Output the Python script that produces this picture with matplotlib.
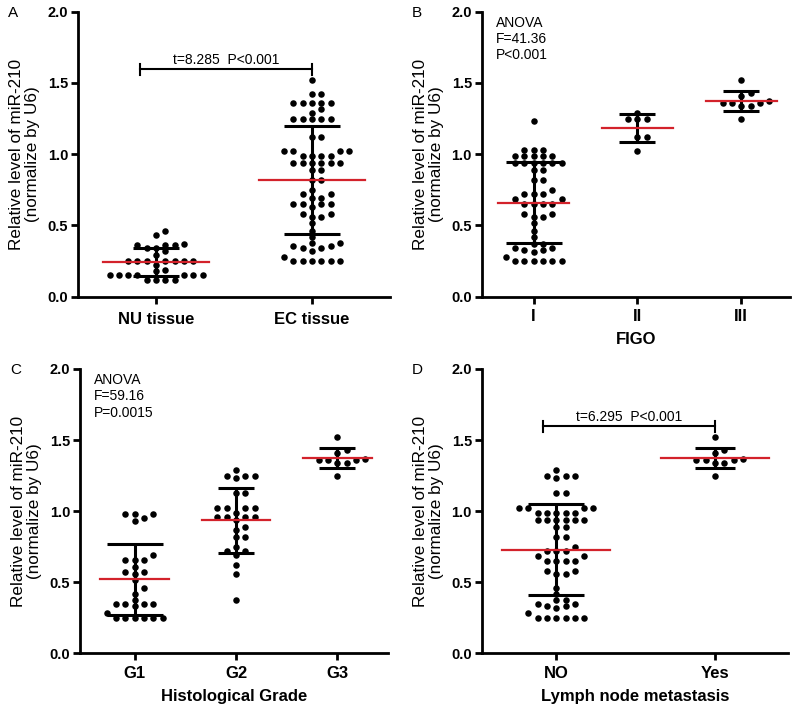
import numpy as np
import matplotlib.pyplot as plt

plt.rcParams['font.family'] = ['Liberation Sans', 'DejaVu Sans']

# values (relative miR-210 level)
nu_tissue = [0.46, 0.43, 0.37, 0.36, 0.36, 0.36, 0.34, 0.34, 0.32, 0.29,
             0.25, 0.25, 0.25, 0.25, 0.25, 0.25, 0.25, 0.22, 0.19, 0.18,
             0.15, 0.15, 0.15, 0.15, 0.15, 0.15, 0.15,
             0.12, 0.12, 0.12, 0.12]
ec_tissue = [1.52, 1.42, 1.42, 1.36, 1.36, 1.36, 1.36, 1.36, 1.32, 1.29,
             1.25, 1.25, 1.25, 1.25, 1.25, 1.12, 1.12,
             1.02, 1.02, 1.02, 1.02, 0.985, 0.985, 0.985, 0.985,
             0.94, 0.94, 0.94, 0.94, 0.94, 0.94,
             0.89, 0.89, 0.82, 0.82, 0.75, 0.72, 0.72, 0.69, 0.69,
             0.65, 0.65, 0.65, 0.65, 0.63, 0.58, 0.58, 0.56, 0.56, 0.515,
             0.46, 0.42, 0.375, 0.375, 0.355, 0.355, 0.34, 0.34, 0.32, 0.276,
             0.25, 0.25, 0.25, 0.25, 0.25, 0.25]

figo_1 = [1.23, 1.03, 1.03, 1.03, 0.985, 0.985, 0.985, 0.985, 0.985,
          0.94, 0.94, 0.94, 0.94, 0.94, 0.94, 0.89, 0.89, 0.82, 0.82,
          0.75, 0.72, 0.72, 0.72, 0.685, 0.685, 0.65, 0.65, 0.65, 0.65,
          0.58, 0.58, 0.56, 0.56, 0.515, 0.46, 0.42, 0.37, 0.37,
          0.345, 0.345, 0.33, 0.33, 0.315, 0.276,
          0.25, 0.25, 0.25, 0.25, 0.25, 0.25]
figo_2 = [1.29, 1.25, 1.25, 1.25, 1.12, 1.12, 1.02]
figo_3 = [1.52, 1.43, 1.41, 1.37, 1.36, 1.36, 1.36, 1.34, 1.34, 1.25]

grade_1 = [0.98, 0.98, 0.98, 0.95, 0.93, 0.69, 0.655, 0.655, 0.655, 0.61,
           0.575, 0.575, 0.56, 0.515, 0.457, 0.42, 0.375,
           0.35, 0.35, 0.35, 0.35, 0.33, 0.28,
           0.25, 0.25, 0.25, 0.25, 0.25, 0.25]
grade_2 = [1.29, 1.25, 1.25, 1.25, 1.23, 1.13, 1.13, 1.02, 1.02, 1.02, 1.02,
           0.99, 0.96, 0.96, 0.96, 0.96, 0.94, 0.89, 0.87, 0.82, 0.82,
           0.745, 0.72, 0.72, 0.69, 0.62, 0.56, 0.375]
grade_3 = [1.52, 1.43, 1.41, 1.37, 1.36, 1.36, 1.36, 1.34, 1.34, 1.25]

lymph_no = [1.29, 1.25, 1.25, 1.25, 1.23, 1.13, 1.13,
            1.02, 1.02, 1.02, 1.02, 0.985, 0.985, 0.985, 0.985, 0.985,
            0.94, 0.94, 0.94, 0.94, 0.94, 0.94, 0.89, 0.89, 0.82, 0.82,
            0.75, 0.72, 0.72, 0.72, 0.685, 0.685, 0.65, 0.65, 0.65, 0.65,
            0.58, 0.58, 0.56, 0.56, 0.46, 0.42, 0.375, 0.375,
            0.345, 0.345, 0.33, 0.33, 0.32, 0.28,
            0.25, 0.25, 0.25, 0.25, 0.25, 0.25]
lymph_yes = [1.52, 1.43, 1.41, 1.37, 1.36, 1.36, 1.36, 1.34, 1.34, 1.25]

panels = [
    dict(letter="A", rect=(78, 11.7, 390, 296.7), xlim=(-0.5, 1.5),
         labels=["NU tissue", "EC tissue"], groups=[nu_tissue, ec_tissue],
         caps=[23, 28], xlabel=None, tickpad=6,
         ttest=("t=8.285  P<0.001", -0.1)),
    dict(letter="B", rect=(481.7, 11.7, 790, 296.7), xlim=(-0.5, 2.47),
         labels=["I", "II", "III"], groups=[figo_1, figo_2, figo_3],
         caps=[28, 18, 18], xlabel="FIGO", tickpad=3.5,
         anova="ANOVA\nF=41.36\nP<0.001"),
    dict(letter="C", rect=(80, 369, 388, 653.3), xlim=(-0.54, 2.5),
         labels=["G1", "G2", "G3"], groups=[grade_1, grade_2, grade_3],
         caps=[28, 18, 18], xlabel="Histological Grade", tickpad=4,
         anova="ANOVA\nF=59.16\nP=0.0015"),
    dict(letter="D", rect=(481.7, 369, 788, 653.3), xlim=(-0.47, 1.46),
         labels=["NO", "Yes"], groups=[lymph_no, lymph_yes],
         caps=[28, 20], xlabel="Lymph node metastasis", tickpad=4,
         ttest=("t=6.295  P<0.001", -0.085)),
]

W, H = 800, 710
RED = "#d3222b"
COL = 9.3      # px between swarm columns
MIN_DY = 5.5   # px, rows closer than this share columns


def swarm_offsets(vals, ppy):
    # place lowest values first, each at the nearest free column
    placed = []
    out = np.zeros(len(vals))
    order = [0, 1, -1, 2, -2, 3, -3, 4, -4, 5, -5, 6, -6, 7, -7]
    for idx in np.argsort(vals, kind="stable"):
        y = vals[idx] * ppy
        for k in order:
            if all(not (c == k and abs(yy - y) < MIN_DY) for c, yy in placed):
                placed.append((k, y))
                out[idx] = k
                break
    return out


fig = plt.figure(figsize=(W / 100, H / 100), dpi=100)

for p in panels:
    l, t, r, b = p["rect"]
    ax = fig.add_axes([l / W, 1 - b / H, (r - l) / W, (b - t) / H])
    ax.set_xlim(*p["xlim"])
    ax.set_ylim(0, 2.0)
    for s in ["top", "right"]:
        ax.spines[s].set_visible(False)
    for s in ["left", "bottom"]:
        ax.spines[s].set_linewidth(2)
    ax.set_yticks([0, 0.5, 1.0, 1.5, 2.0])
    ax.set_yticklabels(["0.0", "0.5", "1.0", "1.5", "2.0"])
    ax.set_xticks(range(len(p["labels"])))
    ax.set_xticklabels(p["labels"])
    ax.tick_params(axis="y", length=5, width=2, pad=2, labelsize=10.5)
    ax.tick_params(axis="x", length=5, width=2, pad=p["tickpad"], labelsize=12)
    for lab in ax.get_xticklabels() + ax.get_yticklabels():
        lab.set_fontweight("bold")
    ax.set_ylabel("Relative level of miR-210\n(normalize by U6)", fontsize=12.3,
                  labelpad=5.5, linespacing=1.1)
    if p["xlabel"]:
        ax.set_xlabel(p["xlabel"], fontsize=12, fontweight="bold", labelpad=6)

    p0 = ax.transData.transform((0, 0))
    p1 = ax.transData.transform((1, 1))
    ppx, ppy = p1[0] - p0[0], p1[1] - p0[1]

    for i, vals in enumerate(p["groups"]):
        vals = np.array(vals)
        offs = swarm_offsets(vals, ppy)
        ax.scatter(i + offs * COL / ppx, vals, s=22, color="black",
                   linewidths=0, zorder=3, clip_on=False)
        m = vals.mean()
        sd = vals.std(ddof=1)
        cap = p["caps"][i] / ppx
        ax.plot([i, i], [m - sd, m + sd], color="black", lw=2.2, zorder=2,
                solid_capstyle="butt")
        for yy in (m - sd, m + sd):
            ax.plot([i - cap, i + cap], [yy, yy], color="black", lw=2.2,
                    zorder=2, solid_capstyle="butt")
        ax.plot([i - 0.34, i + 0.34], [m, m], color=RED, lw=1.6, zorder=4)

    if "ttest" in p:
        txt, x0 = p["ttest"]
        ax.plot([x0, 1.0], [1.60, 1.60], color="black", lw=1.5)
        for xx in (x0, 1.0):
            ax.plot([xx, xx], [1.555, 1.635], color="black", lw=1.5)
        ax.text((x0 + 1.0) / 2, 1.615, txt, ha="center", va="bottom",
                fontsize=10)
    if "anova" in p:
        ax.text(0.045, 0.985, p["anova"], transform=ax.transAxes, ha="left",
                va="top", fontsize=10, linespacing=1.2)

    fig.text((l - 70) / W, 1 - (t - 6) / H, p["letter"], ha="left", va="top",
             fontsize=11)

fig.savefig("out.png", dpi=100)
